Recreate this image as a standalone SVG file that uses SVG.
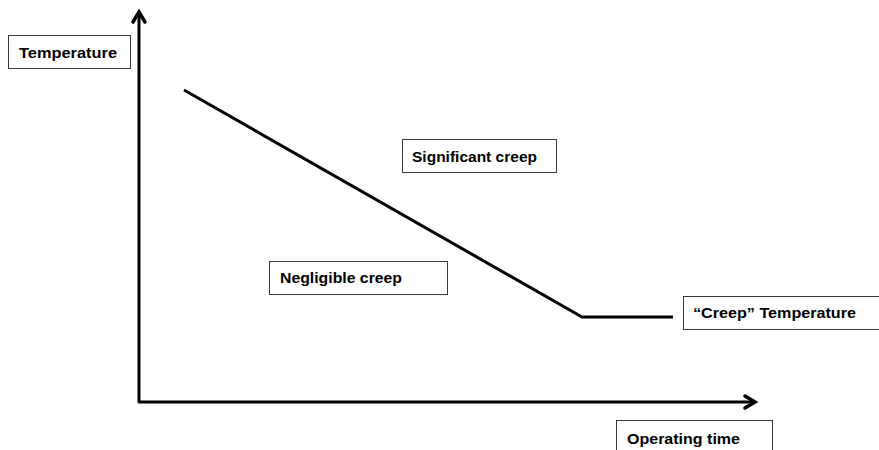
<svg xmlns="http://www.w3.org/2000/svg" width="879" height="450" viewBox="0 0 879 450">
<style>
.box{fill:#fff;stroke:#3a3a3a;stroke-width:1}
.lbl{font-family:"Liberation Sans",Arial,sans-serif;font-weight:bold;font-size:15px;fill:#000}
.ax{fill:none;stroke:#000;stroke-width:3;stroke-linejoin:round}
.arr{fill:none;stroke:#000;stroke-width:3.5;stroke-linecap:round;stroke-linejoin:miter}
</style>
<rect width="879" height="450" fill="#fff"/>
<g id="connectors">
<path class="ax" d="M139,12 V402 H754"/>
<path class="arr" d="M133,22 L139,12 L145,22"/>
<path class="arr" d="M745,396 L755,402 L745,408"/>
<path class="ax" d="M184,90 L582,317 H673"/>
</g>
<g id="temperature">
<rect class="box" x="8.5" y="35.5" width="122" height="33"/>
<text class="lbl" x="19" y="58" textLength="98" lengthAdjust="spacingAndGlyphs">Temperature</text>
</g>
<g id="significant">
<rect class="box" x="402.5" y="139.5" width="154" height="33"/>
<text class="lbl" x="412" y="162" textLength="125" lengthAdjust="spacingAndGlyphs">Significant creep</text>
</g>
<g id="negligible">
<rect class="box" x="269.5" y="261.5" width="178" height="33"/>
<text class="lbl" x="280" y="283" textLength="122" lengthAdjust="spacingAndGlyphs">Negligible creep</text>
</g>
<g id="creeptemp">
<rect class="box" x="683.5" y="296.5" width="200" height="33"/>
<text class="lbl" x="693" y="318" textLength="163" lengthAdjust="spacingAndGlyphs">“Creep” Temperature</text>
</g>
<g id="operating">
<rect class="box" x="616.5" y="420.5" width="156" height="40"/>
<text class="lbl" x="627" y="444" textLength="113" lengthAdjust="spacingAndGlyphs">Operating time</text>
</g>
</svg>
